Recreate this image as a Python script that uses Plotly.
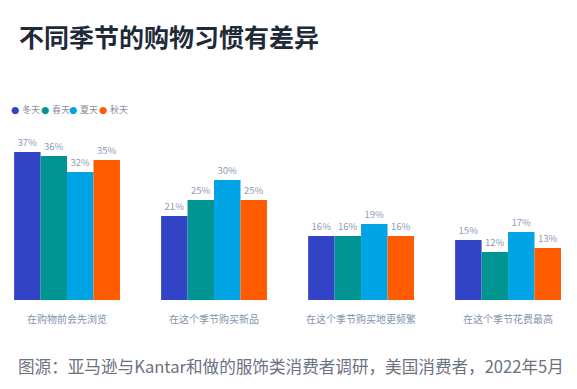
import plotly.graph_objects as go

categories = ["在购物前会先浏览", "在这个季节购买新品", "在这个季节购买地更频繁", "在这个季节花费最高"]
series_names = ["冬天", "春天", "夏天", "秋天"]
winter = [37, 21, 16, 15]
spring = [36, 25, 16, 12]
summer = [32, 30, 19, 17]
autumn = [35, 25, 16, 13]
colors = ["#3243c6", "#009593", "#00a3e3", "#ff5b00"]

title_text = "不同季节的购物习惯有差异"
source_text = "图源：亚马逊与Kantar和做的服饰类消费者调研，美国消费者，2022年5月"

FONT = "Noto Sans CJK SC"

fig = go.Figure()
for name, vals, col in zip(series_names, [winter, spring, summer, autumn], colors):
    fig.add_trace(go.Bar(
        x=categories, y=vals, name=name,
        marker=dict(color=col, line=dict(width=0)),
        text=[f"{v}%" for v in vals], textposition="outside",
        textfont=dict(family=FONT, size=9.5, color="#8d9bb8"),
        cliponaxis=False, showlegend=False,
    ))

fig.update_layout(
    width=577, height=389,
    margin=dict(l=0, r=0, t=130, b=89),
    paper_bgcolor="white", plot_bgcolor="white",
    barmode="group", bargap=0.28, bargroupgap=0,
    xaxis=dict(range=[-0.456, 3.469], showgrid=False, zeroline=False,
               showline=False, ticks="", ticklabelstandoff=12,
               tickfont=dict(family=FONT, size=10, color="#8393ad")),
    yaxis=dict(range=[0, 42.5], visible=False, showgrid=False),
    font=dict(family=FONT),
    showlegend=False,
)

fig.add_annotation(text=title_text, xref="paper", yref="paper",
                   x=0, y=1, xanchor="left", yanchor="middle",
                   xshift=17, yshift=(130 - 36),
                   showarrow=False,
                   font=dict(family=FONT, size=25, color="#1f2a38", weight="bold"))

# legend as annotations built from series names and colors
legend_dot_x = [15, 45, 73, 103]
for name, col, lx in zip(series_names, colors, legend_dot_x):
    fig.add_annotation(
        text="●", xref="paper", yref="paper", x=0, y=1,
        xanchor="center", yanchor="middle",
        xshift=lx, yshift=130 - 109, showarrow=False,
        font=dict(family="DejaVu Sans", size=9.5, color=col))
    fig.add_annotation(
        text=name, xref="paper", yref="paper", x=0, y=1,
        xanchor="left", yanchor="middle",
        xshift=lx + 5, yshift=130 - 109, showarrow=False,
        font=dict(family=FONT, size=9, color="#8a8f99"))

fig.add_annotation(text=source_text, xref="paper", yref="paper",
                   x=0, y=0, xanchor="left", yanchor="middle",
                   xshift=16, yshift=-(366 - 300), showarrow=False,
                   font=dict(family=FONT, size=16.6, color="#6b7280"))

fig.write_html("out.html", post_script="document.body.style.margin='0';",
               config={"displayModeBar": False})
